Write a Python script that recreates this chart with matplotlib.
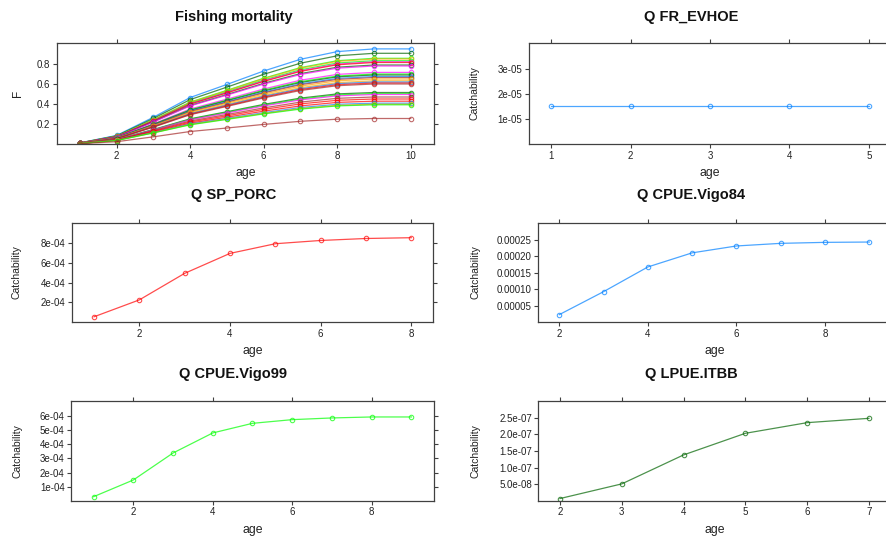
import matplotlib
matplotlib.use("Agg")
import matplotlib.pyplot as plt

plt.rcParams['font.family'] = ['Liberation Sans', 'DejaVu Sans']

# ---------------- data ----------------
f_ages = [1, 2, 3, 4, 5, 6, 7, 8, 9, 10]
f_rows = [
    [0.011, 0.086, 0.268, 0.465, 0.596, 0.730, 0.847, 0.924, 0.951, 0.951],
    [0.011, 0.082, 0.256, 0.444, 0.569, 0.697, 0.808, 0.882, 0.907, 0.907],
    [0.010, 0.077, 0.242, 0.419, 0.537, 0.658, 0.764, 0.833, 0.857, 0.857],
    [0.010, 0.077, 0.240, 0.416, 0.533, 0.653, 0.757, 0.826, 0.850, 0.850],
    [0.010, 0.075, 0.235, 0.407, 0.522, 0.640, 0.742, 0.810, 0.833, 0.833],
    [0.010, 0.074, 0.232, 0.402, 0.515, 0.631, 0.732, 0.799, 0.822, 0.822],
    [0.010, 0.073, 0.230, 0.399, 0.511, 0.626, 0.726, 0.792, 0.815, 0.815],
    [0.009, 0.071, 0.223, 0.386, 0.495, 0.607, 0.704, 0.768, 0.790, 0.790],
    [0.009, 0.070, 0.220, 0.381, 0.489, 0.599, 0.695, 0.758, 0.780, 0.780],
    [0.009, 0.064, 0.202, 0.350, 0.449, 0.550, 0.638, 0.696, 0.716, 0.716],
    [0.008, 0.063, 0.197, 0.342, 0.439, 0.538, 0.624, 0.680, 0.700, 0.700],
    [0.008, 0.062, 0.195, 0.337, 0.433, 0.530, 0.615, 0.671, 0.690, 0.690],
    [0.008, 0.061, 0.190, 0.330, 0.423, 0.518, 0.601, 0.656, 0.675, 0.675],
    [0.008, 0.060, 0.188, 0.325, 0.417, 0.511, 0.593, 0.646, 0.665, 0.665],
    [0.008, 0.059, 0.183, 0.318, 0.408, 0.499, 0.579, 0.632, 0.650, 0.650],
    [0.008, 0.057, 0.178, 0.309, 0.396, 0.485, 0.563, 0.614, 0.632, 0.632],
    [0.007, 0.056, 0.175, 0.303, 0.389, 0.476, 0.552, 0.603, 0.620, 0.620],
    [0.007, 0.055, 0.172, 0.298, 0.382, 0.468, 0.544, 0.593, 0.610, 0.610],
    [0.007, 0.054, 0.169, 0.293, 0.376, 0.461, 0.535, 0.583, 0.600, 0.600],
    [0.006, 0.046, 0.145, 0.252, 0.323, 0.396, 0.459, 0.501, 0.515, 0.515],
    [0.006, 0.045, 0.142, 0.247, 0.317, 0.388, 0.450, 0.491, 0.505, 0.505],
    [0.006, 0.045, 0.140, 0.242, 0.310, 0.380, 0.441, 0.481, 0.495, 0.495],
    [0.006, 0.042, 0.133, 0.230, 0.295, 0.361, 0.419, 0.457, 0.470, 0.470],
    [0.005, 0.041, 0.127, 0.220, 0.282, 0.346, 0.401, 0.437, 0.450, 0.450],
    [0.005, 0.039, 0.121, 0.209, 0.268, 0.329, 0.381, 0.416, 0.428, 0.428],
    [0.005, 0.037, 0.115, 0.200, 0.256, 0.313, 0.364, 0.397, 0.408, 0.408],
    [0.005, 0.036, 0.112, 0.195, 0.250, 0.306, 0.355, 0.387, 0.398, 0.398],
    [0.005, 0.035, 0.111, 0.192, 0.246, 0.301, 0.349, 0.381, 0.392, 0.392],
    [0.003, 0.023, 0.072, 0.125, 0.160, 0.196, 0.227, 0.248, 0.255, 0.255],
]
f_colors = ["#0080ff", "darkgreen", "#00ff00", "orange", "#00ff00", "#ff00ff",
            "#ff0000", "darkgreen", "#ff00ff", "#ff00ff", "#00ff00", "darkgreen",
            "#0080ff", "brown", "orange", "orange", "#0080ff", "#ff0000", "brown",
            "darkgreen", "#00ff00", "#ff00ff", "brown", "#ff0000", "#ff0000",
            "#0080ff", "orange", "#00ff00", "brown"]

evhoe_ages = [1, 2, 3, 4, 5]
evhoe_q = [1.53e-05, 1.53e-05, 1.53e-05, 1.53e-05, 1.53e-05]

porc_ages = [1, 2, 3, 4, 5, 6, 7, 8]
porc_q = [5.3e-05, 2.24e-04, 4.93e-04, 6.95e-04, 7.93e-04, 8.26e-04, 8.46e-04, 8.54e-04]

vigo84_ages = [2, 3, 4, 5, 6, 7, 8, 9]
vigo84_q = [2.25e-05, 9.26e-05, 1.68e-04, 2.11e-04, 2.32e-04, 2.40e-04, 2.43e-04, 2.44e-04]

vigo99_ages = [1, 2, 3, 4, 5, 6, 7, 8, 9]
vigo99_q = [2.9e-05, 1.47e-04, 3.38e-04, 4.80e-04, 5.48e-04, 5.74e-04, 5.86e-04, 5.93e-04, 5.93e-04]

itbb_ages = [2, 3, 4, 5, 6, 7]
itbb_q = [6.8e-09, 5.09e-08, 1.38e-07, 2.03e-07, 2.35e-07, 2.48e-07]

titles = ["Fishing mortality", "Q FR_EVHOE", "Q SP_PORC", "Q CPUE.Vigo84",
          "Q CPUE.Vigo99", "Q LPUE.ITBB"]

f_yticks = [0.2, 0.4, 0.6, 0.8]
f_yticklabels = ["0.2", "0.4", "0.6", "0.8"]
evhoe_yticks = [1e-05, 2e-05, 3e-05]
evhoe_yticklabels = ["1e-05", "2e-05", "3e-05"]
porc_yticks = [2e-04, 4e-04, 6e-04, 8e-04]
porc_yticklabels = ["2e-04", "4e-04", "6e-04", "8e-04"]
vigo84_yticks = [5e-05, 1e-04, 1.5e-04, 2e-04, 2.5e-04]
vigo84_yticklabels = ["0.00005", "0.00010", "0.00015", "0.00020", "0.00025"]
vigo99_yticks = [1e-04, 2e-04, 3e-04, 4e-04, 5e-04, 6e-04]
vigo99_yticklabels = ["1e-04", "2e-04", "3e-04", "4e-04", "5e-04", "6e-04"]
itbb_yticks = [5e-08, 1e-07, 1.5e-07, 2e-07, 2.5e-07]
itbb_yticklabels = ["5.0e-08", "1.0e-07", "1.5e-07", "2.0e-07", "2.5e-07"]

# ---------------- layout ----------------
W, H = 887, 538
fig = plt.figure(figsize=(W / 100, H / 100), dpi=100)


def make_ax(x0, x1, ytop, ybot):
    return fig.add_axes([x0 / W, 1 - ybot / H, (x1 - x0) / W, (ybot - ytop) / H])


FRAME = "#404040"


def style(ax, xlim, ylim, xticks, yticks, yticklabels, ylabel, ylab_dx):
    ax.set_xlim(*xlim)
    ax.set_ylim(*ylim)
    ax.set_xticks(xticks)
    ax.set_xticklabels([str(t) for t in xticks])
    ax.set_yticks(yticks)
    ax.set_yticklabels(yticklabels)
    for s in ax.spines.values():
        s.set_color(FRAME)
        s.set_linewidth(0.9)
    ax.tick_params(direction="out", length=3.2, width=0.8, color=FRAME,
                   labelsize=7, labelcolor="#222222", pad=1.5,
                   top=True, right=True, labeltop=False, labelright=False)
    ax.set_xlabel("age", fontsize=8.8, color="#222222")
    ax.xaxis.set_label_coords(0.5, -29 / (ax.get_position().height * H))
    ax.set_ylabel(ylabel, fontsize=7.5 if ylabel != "F" else 8.5, color="#222222")
    ax.yaxis.set_label_coords(-ylab_dx / (ax.get_position().width * W), 0.5)
    ax.xaxis.label.set_va("center")
    ax.yaxis.label.set_va("center")


def line(ax, x, y, c):
    ax.plot(x, y, color=c, alpha=0.7, lw=0.9, marker="o", ms=3.2,
            mfc="none", mec=c, mew=0.8)


# Fishing mortality
ax1 = make_ax(56.8, 433.9, 43, 144)
for row, c in zip(f_rows, f_colors):
    line(ax1, f_ages, row, c)
style(ax1, (0.37, 10.63), (0.0, 1.01), [2, 4, 6, 8, 10], f_yticks, f_yticklabels, "F", 39)

# Q FR_EVHOE
ax2 = make_ax(529, 891, 43, 144)
line(ax2, evhoe_ages, evhoe_q, "#0080ff")
style(ax2, (0.72, 5.28), (0.0, 4.04e-05), [1, 2, 3, 4, 5], evhoe_yticks, evhoe_yticklabels,
      "Catchability", 54)

# Q SP_PORC
ax3 = make_ax(71.8, 433.5, 222.7, 322)
line(ax3, porc_ages, porc_q, "#ff0000")
style(ax3, (0.51, 8.49), (0.0, 1.006e-03), [2, 4, 6, 8], porc_yticks, porc_yticklabels,
      "Catchability", 55)

# Q CPUE.Vigo84
ax4 = make_ax(537.6, 891, 222.7, 322)
line(ax4, vigo84_ages, vigo84_q, "#0080ff")
style(ax4, (1.51, 9.49), (0.0, 3.03e-04), [2, 4, 6, 8], vigo84_yticks, vigo84_yticklabels,
      "Catchability", 62)

# Q CPUE.Vigo99
ax5 = make_ax(71.3, 433.7, 400.7, 500.8)
line(ax5, vigo99_ages, vigo99_q, "#00ff00")
style(ax5, (0.44, 9.56), (0.0, 7.08e-04), [2, 4, 6, 8], vigo99_yticks, vigo99_yticklabels,
      "Catchability", 54)

# Q LPUE.ITBB
ax6 = make_ax(538.4, 890.6, 400.7, 500.8)
line(ax6, itbb_ages, itbb_q, "darkgreen")
style(ax6, (1.65, 7.35), (0.0, 3.01e-07), [2, 3, 4, 5, 6, 7], itbb_yticks, itbb_yticklabels,
      "Catchability", 63)

# titles
title_pos = [(233.5, 17), (691, 17), (233.5, 195), (691, 195), (233.5, 374), (691, 374)]
for t, (x, y) in zip(titles, title_pos):
    fig.text(x / W, 1 - y / H, t, ha="center", va="center", fontsize=10.5,
             fontweight="bold", color="#111111")

fig.savefig("out.png", dpi=100)
